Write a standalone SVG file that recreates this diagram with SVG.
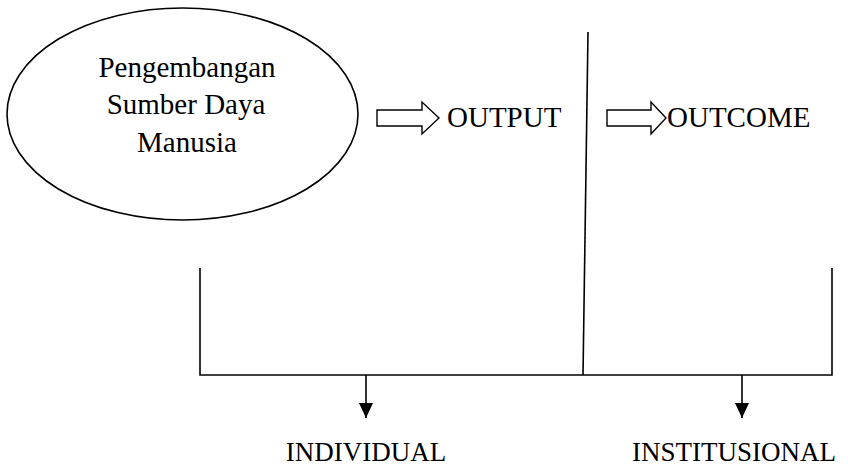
<svg xmlns="http://www.w3.org/2000/svg" width="848" height="468" viewBox="0 0 848 468">
  <style>
    .t { font-family: "Liberation Serif", "Times New Roman", serif; fill: #000; }
    .big { font-size: 29px; }
    .lab { font-size: 27px; }
    .ln { stroke: #000; stroke-width: 1.6; fill: none; }
    .blk { stroke: #000; stroke-width: 1.4; fill: #fff; stroke-linejoin: miter; }
  </style>
  <defs>
    <marker id="ah" viewBox="0 0 15 14" refX="15" refY="7" markerWidth="15" markerHeight="14" markerUnits="userSpaceOnUse" orient="auto">
      <path d="M0,0 L15,7 L0,14 Z" fill="#000"/>
    </marker>
  </defs>
  <rect width="848" height="468" fill="#fff"/>

  <g id="node-psdm">
    <ellipse cx="182.5" cy="114" rx="175.5" ry="106" class="ln"/>
    <text class="t big" text-anchor="middle" x="187" y="77">Pengembangan</text>
    <text class="t big" text-anchor="middle" x="186" y="114">Sumber Daya</text>
    <text class="t big" text-anchor="middle" x="187" y="152">Manusia</text>
  </g>

  <g id="node-output">
    <text class="t big" x="447" y="127">OUTPUT</text>
  </g>

  <g id="node-outcome">
    <text class="t big" x="667" y="127">OUTCOME</text>
  </g>

  <g id="node-individual">
    <text class="t lab" text-anchor="middle" x="366" y="461">INDIVIDUAL</text>
  </g>

  <g id="node-institusional">
    <text class="t lab" text-anchor="middle" x="734" y="461">INSTITUSIONAL</text>
  </g>

  <g id="connectors">
    <polygon class="blk" points="377,110 422,110 422,102 439,118 422,134 422,126 377,126"/>
    <polygon class="blk" points="607,110 651,110 651,102 666,118 651,134 651,126 607,126"/>
    <line class="ln" x1="588" y1="32" x2="583" y2="375"/>
    <polyline class="ln" points="200,268 200,375 832,375 832,268"/>
    <line class="ln" x1="366" y1="375" x2="366" y2="418" marker-end="url(#ah)"/>
    <line class="ln" x1="742" y1="375" x2="742" y2="418" marker-end="url(#ah)"/>
  </g>
</svg>
